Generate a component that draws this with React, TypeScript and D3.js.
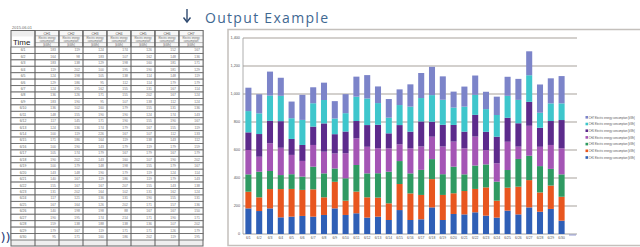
import * as d3 from "d3";
import React from "react";

// days on the x axis / table rows
const days = [
  "6/1", "6/2", "6/3", "6/4", "6/5", "6/6", "6/7", "6/8", "6/9", "6/10",
  "6/11", "6/12", "6/13", "6/14", "6/15", "6/16", "6/17", "6/18", "6/19", "6/20",
  "6/21", "6/22", "6/23", "6/24", "6/25", "6/26", "6/27", "6/28", "6/29", "6/30",
];

const channels = ["CH1", "CH2", "CH3", "CH4", "CH5", "CH6", "CH7"];

// kWh per channel per day
const ch1 = [183, 164, 183, 119, 124, 129, 124, 136, 183, 136, 148, 117, 124, 100, 171, 100, 105, 190, 100, 143, 140, 155, 131, 117, 167, 140, 190, 159, 179, 95];
const ch2 = [119, 98, 138, 202, 198, 186, 195, 126, 190, 102, 155, 145, 136, 119, 186, 190, 174, 202, 179, 148, 167, 167, 202, 121, 164, 198, 195, 138, 167, 171];
const ch3 = [124, 183, 129, 100, 105, 95, 162, 171, 95, 160, 190, 171, 174, 226, 164, 143, 179, 143, 148, 190, 119, 167, 164, 136, 126, 198, 174, 188, 119, 160];
const ch4 = [174, 107, 198, 195, 138, 112, 155, 155, 107, 179, 190, 190, 179, 167, 119, 179, 167, 160, 198, 179, 186, 207, 102, 131, 202, 88, 214, 138, 171, 186];
const ch5 = [126, 162, 160, 190, 114, 114, 131, 202, 138, 155, 124, 155, 167, 107, 138, 119, 179, 107, 155, 119, 119, 155, 131, 190, 171, 167, 171, 136, 171, 202];
const ch6 = [152, 148, 181, 181, 148, 179, 167, 167, 112, 131, 174, 190, 155, 112, 143, 179, 167, 190, 179, 124, 179, 143, 162, 155, 157, 167, 190, 107, 126, 119];
const ch7 = [167, 136, 171, 129, 119, 179, 114, 124, 124, 136, 143, 167, 119, 133, 112, 159, 179, 202, 167, 114, 143, 138, 124, 131, 136, 150, 171, 202, 179, 195];

const yTicks = [0, 200, 400, 600, 800, 1000, 1200, 1400];
const colors = ["#2f5fb6", "#e8561f", "#2f9a62", "#a455b5", "#5c2b8c", "#3ec6cc", "#7c84c9"];

const series = [ch1, ch2, ch3, ch4, ch5, ch6, ch7];
const rows = days.map((d, i) => {
  const r: any = { day: d };
  channels.forEach((c, k) => (r[c] = series[k][i]));
  return r;
});

export default function App() {
  const W = 640;
  const H = 247;

  // chart
  const x = d3.scaleBand().domain(days).range([243, 567]).paddingInner(0.44).paddingOuter(0.22);
  const y = d3.scaleLinear().domain([0, 1400]).range([234, 38]);
  const stacked = d3.stack().keys(channels)(rows);

  // table
  const tx0 = 11;
  const tx1 = 203;
  const timeW = 24;
  const colX = d3.scaleBand().domain(channels).range([tx0 + timeW, tx1]);
  const rowY = d3.scaleBand().domain(days).range([47, 240]);

  const sans = "'Liberation Sans', Arial, sans-serif";

  return (
    <svg width={W} height={H} style={{ position: "absolute", left: 0, top: 0, background: "#fff" }} fontFamily={sans}>
      {/* header: arrow + caption */}
      <line x1={187} y1={9} x2={187} y2={21} stroke="#2f4a70" strokeWidth={1.4} />
      <path d="M183.5,17.5 L187,22 L190.5,17.5" fill="none" stroke="#2f4a70" strokeWidth={1.4} />
      <text x={205} y={23} fontSize={14} fill="#3f6892" fontFamily="'Open Sans', sans-serif" textLength={123}>
        Output Example
      </text>

      {/* table */}
      <text x={12} y={28.5} fontSize={4} fill="#666">2015.06.01</text>
      <rect x={tx0} y={30.5} width={tx1 - tx0} height={215.5} fill="#eeeeee" stroke="#666" strokeWidth={1} />
      {channels.map((c) => (
        <g key={c}>
          <rect x={colX(c)} y={30.5} width={colX.bandwidth()} height={16.5} fill="#f7f7f7" stroke="#666" strokeWidth={0.8} />
          <text x={colX(c)! + colX.bandwidth() / 2} y={34.8} fontSize={3.6} textAnchor="middle" fill="#555">{c}</text>
          <line x1={colX(c)} x2={colX(c)! + colX.bandwidth()} y1={35.8} y2={35.8} stroke="#777" strokeWidth={0.5} />
          <text x={colX(c)! + colX.bandwidth() / 2} y={38.8} fontSize={2.6} textAnchor="middle" fill="#666">Electric energy</text>
          <text x={colX(c)! + colX.bandwidth() / 2} y={41.6} fontSize={2.6} textAnchor="middle" fill="#666">consumption</text>
          <line x1={colX(c)} x2={colX(c)! + colX.bandwidth()} y1={42.6} y2={42.6} stroke="#777" strokeWidth={0.5} />
          <text x={colX(c)! + colX.bandwidth() / 2} y={46} fontSize={3} textAnchor="middle" fill="#666">[kWh]</text>
        </g>
      ))}
      <rect x={tx0 + 1} y={36.5} width={timeW - 3} height={10} fill="#fff" />
      <text x={13} y={45} fontSize={8} fill="#222">Time</text>
      {days.map((d, i) => (
        <g key={d}>
          <rect x={tx0} y={rowY(d)} width={tx1 - tx0} height={rowY.bandwidth()} fill="#fff" stroke="#6a6a6a" strokeWidth={0.9} />
          <text x={tx0 + timeW / 2} y={rowY(d)! + 4.4} fontSize={3.4} textAnchor="middle" fill="#666">{d}</text>
          {channels.map((c, k) => (
            <text key={c} x={colX(c)! + colX.bandwidth() - 3} y={rowY(d)! + 4.4} fontSize={3.4} textAnchor="end" fill="#777">
              {series[k][i]}
            </text>
          ))}
        </g>
      ))}
      {channels.map((c) => (
        <line key={c} x1={colX(c)} x2={colX(c)} y1={30.5} y2={246} stroke="#5a5a5a" strokeWidth={1} />
      ))}

      {/* corner icon */}
      <text x={0.5} y={242} fontSize={13} fill="#2b3d7a" fontFamily="'DejaVu Sans', sans-serif">))</text>

      {/* chart frame */}
      <rect x={228} y={29.5} width={420} height={216} fill="#fff" stroke="#c4c0bc" strokeWidth={1.5} />

      {/* gridlines */}
      {yTicks.map((t) => (
        <g key={t}>
          <line x1={243} x2={577} y1={y(t)} y2={y(t)} stroke={t === 0 ? "#8a8a8a" : "#a8a29c"} strokeWidth={t === 0 ? 0.8 : 1.1} />
          <text x={240} y={y(t) + 1.3} fontSize={3.8} textAnchor="end" fill="#555">{t.toLocaleString("en-US")}</text>
        </g>
      ))}
      <line x1={243} x2={243} y1={y(1400)} y2={y(0)} stroke="#9a9a9a" strokeWidth={0.8} />

      {/* stacked bars */}
      {stacked.map((s, k) => (
        <g key={s.key} fill={colors[k]}>
          {s.map((d: any) => (
            <rect key={d.data.day} x={x(d.data.day)} y={y(d[1])} width={x.bandwidth()} height={y(d[0]) - y(d[1])} />
          ))}
        </g>
      ))}

      {/* x labels */}
      {days.map((d) => (
        <text key={d} x={x(d)! + x.bandwidth() / 2} y={239} fontSize={3.4} textAnchor="middle" fill="#555">{d}</text>
      ))}
      <line x1={569} x2={576} y1={235} y2={235} stroke="#7c84c9" strokeWidth={0.8} />

      {/* legend */}
      {channels.slice().reverse().map((c, i) => {
        const k = channels.length - 1 - i;
        const ly = 118 + i * 6.7;
        return (
          <g key={c}>
            <rect x={585.5} y={ly - 2} width={2.6} height={2.6} fill={colors[k]} />
            <text x={588.8} y={ly + 0.6} fontSize={3} fill="#555" textLength={46} lengthAdjust="spacingAndGlyphs">
              {c} Electric energy consumption [kWh]
            </text>
          </g>
        );
      })}
    </svg>
  );
}
